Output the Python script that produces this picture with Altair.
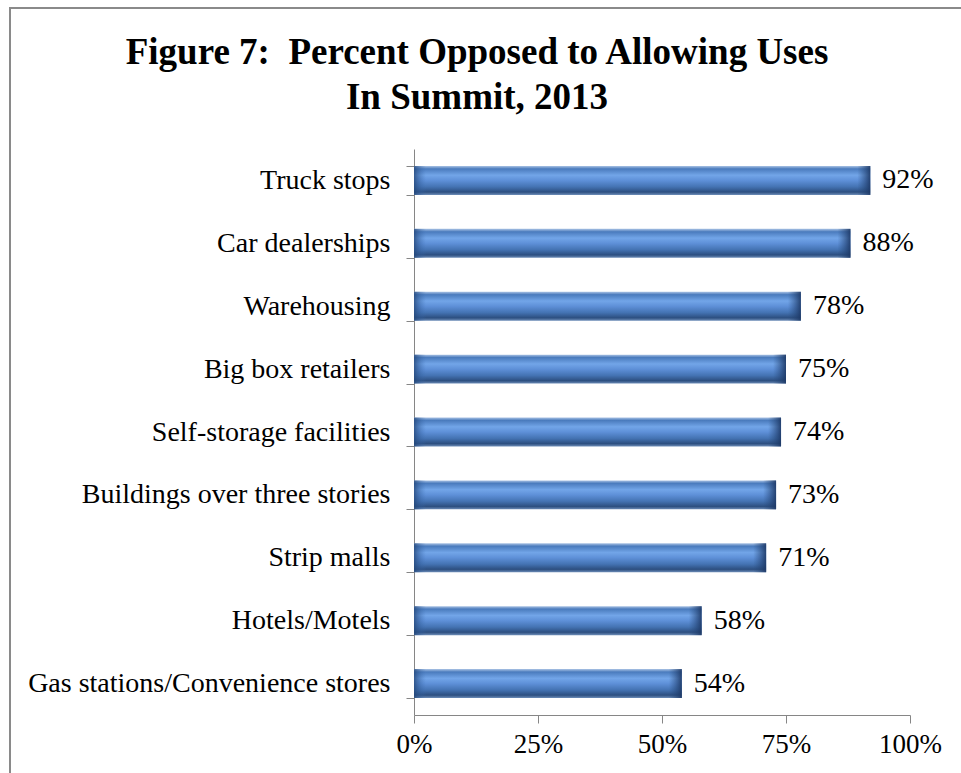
import altair as alt
import pandas as pd

categories = [
    "Truck stops",
    "Car dealerships",
    "Warehousing",
    "Big box retailers",
    "Self-storage facilities",
    "Buildings over three stories",
    "Strip malls",
    "Hotels/Motels",
    "Gas stations/Convenience stores",
]
values = [0.92, 0.88, 0.78, 0.75, 0.74, 0.73, 0.71, 0.58, 0.54]
x_ticks = [0, 0.25, 0.5, 0.75, 1.0]
title_lines = ["Figure 7:\u00a0 Percent Opposed to Allowing Uses", "In Summit, 2013"]

df = pd.DataFrame({"use": categories, "pct": values, "zero": [0.0] * len(values)})

FONT = "Liberation Serif"
GRAY = "#868686"

y_enc = alt.Y(
    "use:N",
    sort=categories,
    title=None,
    scale=alt.Scale(paddingInner=0.54, paddingOuter=0.27),
    axis=alt.Axis(
        tickBand="extent",
        tickSize=8,
        tickColor=GRAY,
        domainColor=GRAY,
        labelFont=FONT,
        labelFontSize=28,
        labelColor="black",
        labelPadding=16,
        labelLimit=500,
    ),
)
x_enc = alt.X(
    "pct:Q",
    title=None,
    scale=alt.Scale(domain=[0, 1]),
    axis=alt.Axis(
        values=x_ticks,
        format=".0%",
        grid=False,
        tickSize=8,
        tickColor=GRAY,
        domainColor=GRAY,
        labelFont=FONT,
        labelFontSize=27,
        labelColor="black",
        labelPadding=8,
        labelFlush=False,
    ),
)

base = alt.Chart(df)

bar_grad = alt.Gradient(
    gradient="linear",
    x1=0, y1=0, x2=0, y2=1,
    stops=[
        alt.GradientStop(color="#a9c2e4", offset=0.0),
        alt.GradientStop(color="#4a7bbd", offset=0.1),
        alt.GradientStop(color="#72a5e8", offset=0.32),
        alt.GradientStop(color="#5e90d8", offset=0.5),
        alt.GradientStop(color="#4473b3", offset=0.72),
        alt.GradientStop(color="#2d4f80", offset=0.9),
        alt.GradientStop(color="#6d8db8", offset=1.0),
    ],
)

bars = base.mark_bar(fill=bar_grad).encode(x=x_enc, y=y_enc)

left_bevel = base.mark_bar(
    x2Offset=12,
    fill=alt.Gradient(
        gradient="linear", x1=0, y1=0, x2=1, y2=0,
        stops=[
            alt.GradientStop(color="rgba(35,70,120,0.8)", offset=0.0),
            alt.GradientStop(color="rgba(60,110,180,0.0)", offset=1.0),
        ],
    ),
).encode(x=alt.X("zero:Q"), x2="zero:Q", y=alt.Y("use:N", sort=categories))

right_bevel = base.mark_bar(
    xOffset=-13,
    fill=alt.Gradient(
        gradient="linear", x1=0, y1=0, x2=1, y2=0,
        stops=[
            alt.GradientStop(color="rgba(40,75,125,0.0)", offset=0.0),
            alt.GradientStop(color="rgba(28,55,100,0.9)", offset=1.0),
        ],
    ),
).encode(x=alt.X("pct:Q"), x2="pct:Q", y=alt.Y("use:N", sort=categories))

labels = base.mark_text(
    align="left", baseline="middle", dx=12, font=FONT, fontSize=28, color="black"
).encode(
    x="pct:Q",
    y=alt.Y("use:N", sort=categories),
    text=alt.Text("pct:Q", format=".0%"),
)

frame = alt.Chart(pd.DataFrame({"a": [0]})).mark_rect(
    fill=None, stroke="#8a8a8a", strokeWidth=2
).encode(
    x=alt.value(-404), x2=alt.value(570),
    y=alt.value(-141), y2=alt.value(650),
)

chart = alt.layer(frame, bars, left_bevel, right_bevel, labels).properties(
    width=496,
    height=566,
    autosize=alt.AutoSizeParams(type="none"),
    padding={"left": 414, "top": 149, "right": 51, "bottom": 58},
    background="white",
    title=alt.TitleParams(
        text=title_lines,
        font=FONT,
        fontSize=37,
        fontWeight="bold",
        color="black",
        anchor="middle",
        dx=-185,
        offset=-110,
        lineHeight=45,
    ),
).configure_view(stroke=None)

chart.save("out.html", embed_options={"renderer": "svg", "actions": False})
